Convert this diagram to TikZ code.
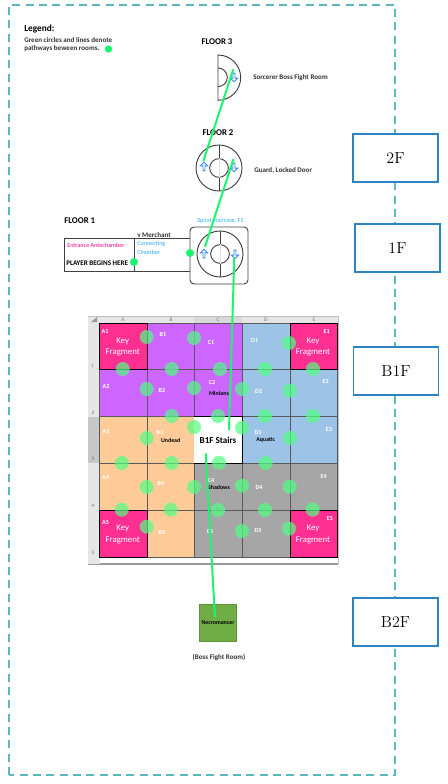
\documentclass[tikz,border=0pt]{standalone}
\usepackage{fontspec}
\setmainfont{Carlito}
\newfontfamily\boxfont{Latin Modern Roman}
\usetikzlibrary{shapes.arrows}
\definecolor{framecol}{HTML}{5BB8BF}
\definecolor{boxcol}{HTML}{2E84C0}
\definecolor{pathcol}{HTML}{1CF56E}
\definecolor{dotcol}{HTML}{50FF82}
\definecolor{doorcol}{HTML}{3D86FF}
\definecolor{wallcol}{HTML}{404040}
\definecolor{keycol}{HTML}{FF2F92}
\definecolor{purplecol}{HTML}{CC66FF}
\definecolor{orangecol}{HTML}{FFCC99}
\definecolor{bluecol}{HTML}{9DC3E6}
\definecolor{greycol}{HTML}{A6A6A6}
\definecolor{headcol}{HTML}{E6E6E6}
\definecolor{roomcol}{HTML}{70AD47}
\begin{document}
\begin{tikzpicture}[x=0.75pt,y=-0.75pt]
\tikzset{
  floorbox/.style={draw=boxcol,line width=1.3pt,fill=white,minimum width=63.75pt,minimum height=36pt,inner sep=0pt,font=\boxfont\fontsize{12}{14}\selectfont},
  floortitle/.style={inner sep=0pt,font=\bfseries\fontsize{6.6}{8}\selectfont},
  smalltext/.style={inner sep=0pt,font=\bfseries\fontsize{5.3}{6.5}\selectfont,text=black!80},
  roomtext/.style={inner sep=0pt,anchor=west,font=\fontsize{4.6}{5.8}\selectfont},
  towerout/.style={circle,draw=wallcol,line width=0.7pt,minimum size=34.5pt,inner sep=0pt},
  towerin/.style={circle,draw=wallcol,line width=0.7pt,minimum size=14pt,inner sep=0pt},
  wall/.style={draw=wallcol,line width=0.7pt},
  door/.style={single arrow,draw=doorcol,fill=white,line width=0.6pt,minimum height=6.5pt,minimum width=5.5pt,single arrow head extend=0.9pt,inner sep=0pt},
  pathline/.style={draw=pathcol,line width=1.5pt},
  bigdot/.style={circle,fill=pathcol,minimum size=6pt,inner sep=0pt},
  griddot/.style={circle,fill=dotcol,fill opacity=0.7,minimum size=10.5pt,inner sep=0pt},
  cellname/.style={inner sep=0pt,text=white,font=\bfseries\fontsize{4.6}{6}\selectfont},
  celltext/.style={inner sep=0pt,text=black,font=\bfseries\fontsize{4.4}{6}\selectfont},
  keytext/.style={inner sep=0pt,text=white,font=\fontsize{6.6}{8}\selectfont},
  headtext/.style={inner sep=0pt,text=black!55,font=\fontsize{4}{5}\selectfont},
  gridline/.style={draw=black!65,line width=0.45pt}
}
\useasboundingbox (0,0) rectangle (447,784);
% outer frame
\draw[framecol,line width=1.4pt,dash pattern=on 6pt off 4pt] (9,775) -- (9,5) -- (395,5) -- (395,775) -- cycle;
% legend
\node[inner sep=0pt,anchor=west,font=\bfseries\fontsize{7}{8}\selectfont] (legend_title) at (24,29.5) {Legend:};
\node[smalltext,anchor=west] (legend_one) at (24,40) {Green circles and lines denote};
\node[smalltext,anchor=west] (legend_two) at (24,49) {pathways beween rooms.};
\node[bigdot,minimum size=5.5pt] (legend_dot) at (108.5,49) {};
% floor 3
\node[floortitle] (title_f3) at (217,42) {FLOOR 3};
\draw[wall] (218,55) arc[start angle=90,end angle=-90,radius=17pt] -- cycle;
\draw[wall] (218,68) arc[start angle=90,end angle=-90,radius=7pt];
\node[door,rotate=-90] (door_f3) at (234,77) {};
\node[smalltext,anchor=west] (name_f3) at (253,78) {Sorcerer Boss Fight Room};
% floor 2
\node[floortitle] (title_f2) at (218,132.5) {FLOOR 2};
\node[towerout] (out_f2) at (219,168) {};
\node[towerin] (in_f2) at (219,168) {};
\draw[wall] (out_f2.north) -- (in_f2.north);
\draw[wall] (in_f2.south) -- (out_f2.south);
\draw[black!12,line width=0.7pt] (in_f2.north) -- (in_f2.south);
\node[door,rotate=90] (door_f2a) at (204,167) {};
\node[door,rotate=-90] (door_f2b) at (234,167) {};
\node[smalltext,anchor=west] (name_f2) at (254,170) {Guard, Locked Door};
% floor 1
\node[floortitle,anchor=west] (title_f1) at (64,221) {FLOOR 1};
\node[inner sep=0pt,text=doorcol!70!cyan,font=\fontsize{4.6}{6}\selectfont] (name_stairs) at (220.5,220.5) {Spiral Staircase, F1};
\draw[wall,rounded corners=3pt] (190,227) rectangle (248,284);
\draw[wall] (190,238) -- (64,238) -- (64,271) -- (190,271);
\draw[wall] (134,238) -- (134,271);
\node[towerout] (out_f1) at (220,254) {};
\node[towerin] (in_f1) at (220,254) {};
\draw[wall] (out_f1.north) -- (in_f1.north);
\draw[wall] (in_f1.south) -- (out_f1.south);
\draw[black!12,line width=0.7pt] (in_f1.north) -- (in_f1.south);
\node[door,rotate=90] (door_f1a) at (204,254) {};
\node[door,rotate=-90] (door_f1b) at (235,254) {};
\node[smalltext,anchor=west] (name_merchant) at (137,235) {v Merchant};
\node[roomtext,text=magenta] (name_entrance) at (67,245) {Entrance Antechamber};
\node[roomtext,text=doorcol!70!cyan] (name_conn_a) at (137,244) {Connecting};
\node[roomtext,text=doorcol!70!cyan] (name_conn_b) at (137,252) {Chamber};
\node[smalltext,anchor=west,text=black] (name_player) at (66,263) {PLAYER BEGINS HERE};
\node[bigdot] (dot_player) at (134,262) {};
\node[bigdot] (dot_merchant) at (190,253) {};
% spreadsheet frame
\fill[headcol] (88,316) rectangle (338,323);
\fill[headcol] (88,316) rectangle (99.5,557);
\fill[black!22] (88,416.5) rectangle (99.5,463);
\fill[black!15] (194,316) rectangle (242,323);
\fill[black!40] (91,322) -- (97,322) -- (97,317) -- cycle;
\draw[black!25,line width=0.4pt] (88,316) -- (338,316) -- (338,564);
\draw[black!40,line width=0.8pt] (88,564) -- (338,564);
\fill[headcol] (88,557) rectangle (99.5,564);
% spreadsheet cells
\fill[keycol] (99.5,323) rectangle (147,369.5);
\fill[purplecol] (147,323) rectangle (242,416.5);
\fill[purplecol] (99.5,369.5) rectangle (147,416.5);
\fill[bluecol] (242,323) rectangle (290,463);
\fill[bluecol] (290,369.5) rectangle (337.5,463);
\fill[keycol] (290,323) rectangle (337.5,369.5);
\fill[orangecol] (99.5,416.5) rectangle (194,510);
\fill[orangecol] (147,510) rectangle (194,557);
\fill[keycol] (99.5,510) rectangle (147,557);
\fill[greycol] (194,463) rectangle (337.5,510);
\fill[greycol] (194,510) rectangle (290,557);
\fill[keycol] (290,510) rectangle (337.5,557);
\draw[gridline] (147,323) -- (147,557);
\draw[gridline] (194,323) -- (194,557);
\draw[gridline] (242,323) -- (242,557);
\draw[gridline] (290,323) -- (290,557);
\draw[gridline] (99.5,369.5) -- (337.5,369.5);
\draw[gridline] (99.5,416.5) -- (337.5,416.5);
\draw[gridline] (99.5,463) -- (337.5,463);
\draw[gridline] (99.5,510) -- (337.5,510);
\draw[gridline] (99.5,323) rectangle (337.5,557);
\draw[black,line width=0.6pt] (99.5,323) rectangle (147,369.5);
\draw[black,line width=0.6pt] (290,323) rectangle (337.5,369.5);
\draw[black,line width=0.6pt] (99.5,510) rectangle (147,557);
\draw[black,line width=0.6pt] (290,510) rectangle (337.5,557);
\draw[black,line width=0.6pt] (194,416.5) rectangle (242,463);
\fill[white] (194.3,416.8) rectangle (241.7,462.7);
% spreadsheet headers
\node[headtext] (head_a) at (123,319.5) {A};
\node[headtext] (head_b) at (171,319.5) {B};
\node[headtext] (head_c) at (218,319.5) {C};
\node[headtext] (head_d) at (266,319.5) {D};
\node[headtext] (head_e) at (314,319.5) {E};
\node[headtext] (head_1) at (92.5,366) {1};
\node[headtext] (head_2) at (93,412.5) {2};
\node[headtext] (head_3) at (93,459) {3};
\node[headtext] (head_4) at (93,506) {4};
\node[headtext] (head_5) at (93,553) {5};
% cell labels
\node[cellname] (cell_a1) at (105,332) {A1};
\node[cellname] (cell_b1) at (163,335) {B1};
\node[cellname] (cell_c1) at (211,343) {C1};
\node[cellname] (cell_d1) at (254.7,340.7) {D1};
\node[cellname] (cell_e1) at (326.7,332) {E1};
\node[cellname] (cell_a2) at (106,386) {A2};
\node[cellname] (cell_b2) at (162,390) {B2};
\node[cellname] (cell_c2) at (212,383) {C2};
\node[cellname] (cell_d2) at (258.7,391) {D2};
\node[cellname] (cell_e2) at (325.7,381) {E2};
\node[cellname] (cell_a3) at (106,432) {A3};
\node[cellname] (cell_b3) at (160,432.7) {B3};
\node[cellname] (cell_d3) at (258,433) {D3};
\node[cellname] (cell_e3) at (329,430) {E3};
\node[cellname] (cell_a4) at (105.6,478) {A4};
\node[cellname] (cell_b4) at (161,483.6) {B4};
\node[cellname] (cell_c4) at (211,481) {C4};
\node[cellname] (cell_d4) at (259,487.6) {D4};
\node[cellname] (cell_e4) at (323.7,477) {E4};
\node[cellname] (cell_a5) at (105.6,523) {A5};
\node[cellname] (cell_b5) at (162,532.7) {B5};
\node[cellname] (cell_c5) at (210,532) {C5};
\node[cellname] (cell_d5) at (258,531) {D5};
\node[cellname] (cell_e5) at (330,519) {E5};
\node[keytext] (key_a1a) at (122.7,341) {Key};
\node[keytext] (key_a1b) at (122.7,352) {Fragment};
\node[keytext] (key_e1a) at (313,341) {Key};
\node[keytext] (key_e1b) at (313,352) {Fragment};
\node[keytext] (key_a5a) at (122.7,528) {Key};
\node[keytext] (key_a5b) at (122.7,540) {Fragment};
\node[keytext] (key_e5a) at (313,528) {Key};
\node[keytext] (key_e5b) at (313,540) {Fragment};
\node[celltext] (text_minions) at (219,393) {Minions};
\node[celltext] (text_undead) at (170.7,440) {Undead};
\node[celltext] (text_aquatic) at (265.7,440) {Aquatic};
\node[celltext] (text_shadows) at (219,487.5) {Shadows};
\node[inner sep=0pt,font=\bfseries\fontsize{6.8}{8}\selectfont] (text_stairs) at (218,440) {B1F Stairs};
% pathways on the grid
\node[griddot] (dot_ab1) at (146.7,337) {};
\node[griddot] (dot_bc1) at (194,338) {};
\node[griddot] (dot_de1) at (289,343) {};
\node[griddot] (dot_a12) at (122.7,369) {};
\node[griddot] (dot_b12) at (171.7,369) {};
\node[griddot] (dot_c12) at (220,369) {};
\node[griddot] (dot_d12) at (265,369) {};
\node[griddot] (dot_e12) at (313,369) {};
\node[griddot] (dot_ab2) at (146.7,389) {};
\node[griddot] (dot_bc2) at (194,388) {};
\node[griddot] (dot_cd2) at (242,389) {};
\node[griddot] (dot_de2) at (289.7,390.7) {};
\node[griddot] (dot_b23) at (171.7,416) {};
\node[griddot] (dot_c23) at (218,416) {};
\node[griddot] (dot_d23) at (265,416) {};
\node[griddot] (dot_e23) at (313,416) {};
\node[griddot] (dot_ab3) at (146.7,438) {};
\node[griddot] (dot_bc3) at (194,427) {};
\node[griddot] (dot_cd3) at (242,427.7) {};
\node[griddot] (dot_de3) at (290,438) {};
\node[griddot] (dot_a34) at (121.7,463) {};
\node[griddot] (dot_b34) at (171.7,463) {};
\node[griddot] (dot_c34) at (219,462.7) {};
\node[griddot] (dot_d34) at (265.7,463) {};
\node[griddot] (dot_ab4) at (146.7,487) {};
\node[griddot] (dot_bc4) at (194,487) {};
\node[griddot] (dot_cd4) at (242,485.7) {};
\node[griddot] (dot_de4) at (289.7,486.7) {};
\node[griddot] (dot_a45) at (121.7,509.7) {};
\node[griddot] (dot_b45) at (170.7,509.7) {};
\node[griddot] (dot_c45) at (218,510) {};
\node[griddot] (dot_d45) at (265,510) {};
\node[griddot] (dot_e45) at (312.7,509.7) {};
\node[griddot] (dot_ab5) at (146.7,526.7) {};
\node[griddot] (dot_cd5) at (242,531) {};
\node[griddot] (dot_de5) at (289,528.7) {};
% basement 2
\node[draw=roomcol!85!black,fill=roomcol,minimum size=28pt,inner sep=0pt,font=\bfseries\fontsize{4.4}{6}\selectfont] (room_b2) at (218,622.5) {Necromancer};
\node[smalltext] (name_b2) at (219,657.5) {(Boss Fight Room)};
% floor boxes
\node[floorbox] (box_2f) at (395.5,158) {2F};
\node[floorbox] (box_1f) at (397.5,248) {1F};
\node[floorbox] (box_b1f) at (396,371) {B1F};
\node[floorbox] (box_b2f) at (395.5,622) {B2F};
% stair ends and links
\coordinate (end_f3) at (233.3,69.3);
\coordinate (end_f2a) at (203.3,161.3);
\coordinate (end_f2b) at (233.5,159);
\coordinate (end_f1a) at (205,246.7);
\coordinate (end_f1b) at (234.3,257.3);
\coordinate (end_b1a) at (229,430);
\coordinate (end_b1b) at (205.7,453.3);
\coordinate (end_b2) at (215,617.3);
\draw[pathline] (end_f3) -- (end_f2a);
\draw[pathline] (end_f2b) -- (end_f1a);
\draw[pathline] (end_f1b) -- (end_b1a);
\draw[pathline] (end_b1b) -- (end_b2);
\end{tikzpicture}
\end{document}
